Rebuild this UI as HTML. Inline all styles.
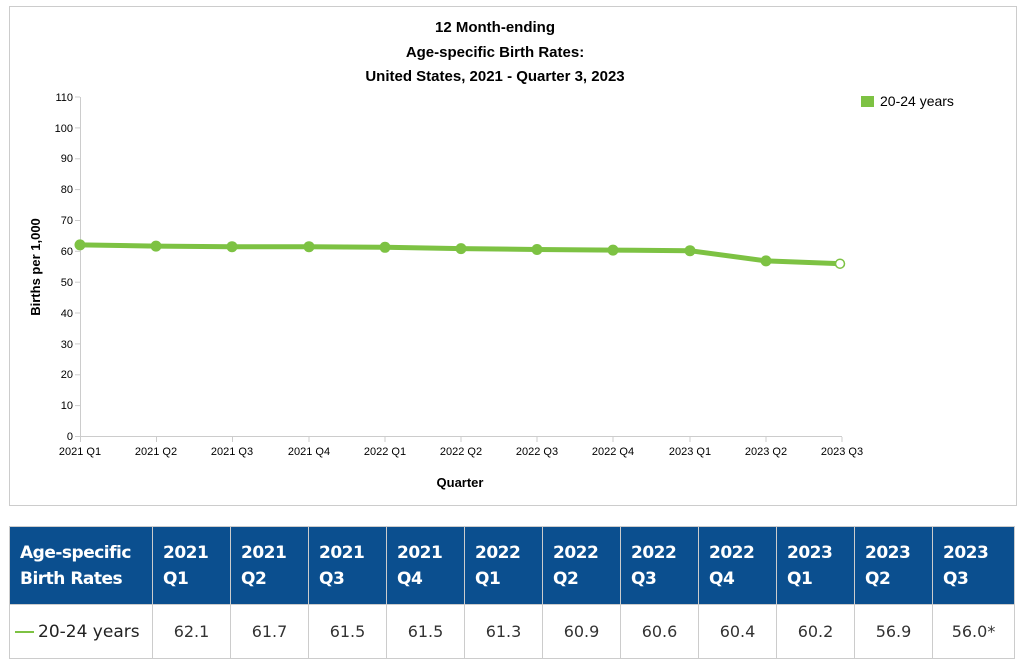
<!DOCTYPE html>
<html><head><meta charset="utf-8"><style>
body{margin:0;background:#fff;width:1026px;height:670px;overflow:hidden;font-family:"Liberation Sans",sans-serif}
.box{position:absolute;left:9px;top:6px;width:1006px;height:498px;border:1px solid #ccc}
table{position:absolute;left:9px;top:526px;border-collapse:collapse;font-family:"DejaVu Sans","Liberation Sans",sans-serif}
th{background:#0b4f8f;color:#fff;font-size:17px;text-align:left;font-weight:bold;padding:0 10px;height:77px;border:1px solid #ccc;line-height:26px;letter-spacing:-0.5px}
td{border:1px solid #ccc;height:53px;font-size:16px;text-align:center;color:#333;padding:0}
</style></head><body>
<div class="box"></div>
<svg width="1026" height="510" style="position:absolute;left:0;top:0" font-family="Liberation Sans, sans-serif">
<g font-size="15" font-weight="bold" text-anchor="middle" fill="#000">
<text x="495" y="32">12 Month-ending</text>
<text x="495" y="57">Age-specific Birth Rates:</text>
<text x="495" y="81">United States, 2021 - Quarter 3, 2023</text>
</g>
<line x1="80.5" y1="97" x2="80.5" y2="437" stroke="#ccc"/>
<line x1="80" y1="436.5" x2="842" y2="436.5" stroke="#ccc"/>
<g font-size="11" text-anchor="end" fill="#000">
<text x="73" y="440">0</text><text x="73" y="409">10</text><text x="73" y="378">20</text><text x="73" y="348">30</text><text x="73" y="317">40</text><text x="73" y="286">50</text><text x="73" y="255">60</text><text x="73" y="224">70</text><text x="73" y="193">80</text><text x="73" y="162">90</text><text x="73" y="132">100</text><text x="73" y="101">110</text>
</g>
<g stroke="#ccc">
<line x1="75" y1="436.5" x2="80" y2="436.5"/><line x1="75" y1="405.6" x2="80" y2="405.6"/><line x1="75" y1="374.8" x2="80" y2="374.8"/><line x1="75" y1="343.9" x2="80" y2="343.9"/><line x1="75" y1="313" x2="80" y2="313"/><line x1="75" y1="282.2" x2="80" y2="282.2"/><line x1="75" y1="251.3" x2="80" y2="251.3"/><line x1="75" y1="220.5" x2="80" y2="220.5"/><line x1="75" y1="189.6" x2="80" y2="189.6"/><line x1="75" y1="158.8" x2="80" y2="158.8"/><line x1="75" y1="127.9" x2="80" y2="127.9"/><line x1="75" y1="97" x2="80" y2="97"/>
</g>
<g stroke="#ccc">
<line x1="80.5" y1="437" x2="80.5" y2="442"/><line x1="156.5" y1="437" x2="156.5" y2="442"/><line x1="232.5" y1="437" x2="232.5" y2="442"/><line x1="309" y1="437" x2="309" y2="442"/><line x1="385" y1="437" x2="385" y2="442"/><line x1="461" y1="437" x2="461" y2="442"/><line x1="537" y1="437" x2="537" y2="442"/><line x1="613" y1="437" x2="613" y2="442"/><line x1="690" y1="437" x2="690" y2="442"/><line x1="766" y1="437" x2="766" y2="442"/><line x1="842" y1="437" x2="842" y2="442"/>
</g>
<g font-size="11" text-anchor="middle" fill="#000">
<text x="80" y="455">2021 Q1</text><text x="156" y="455">2021 Q2</text><text x="232" y="455">2021 Q3</text><text x="309" y="455">2021 Q4</text><text x="385" y="455">2022 Q1</text><text x="461" y="455">2022 Q2</text><text x="537" y="455">2022 Q3</text><text x="613" y="455">2022 Q4</text><text x="690" y="455">2023 Q1</text><text x="766" y="455">2023 Q2</text><text x="842" y="455">2023 Q3</text>
</g>
<text x="460" y="487" font-size="13" font-weight="bold" text-anchor="middle">Quarter</text>
<text transform="translate(40,267) rotate(-90)" font-size="13" font-weight="bold" text-anchor="middle">Births per 1,000</text>
<polyline fill="none" stroke="#7dc243" stroke-width="5" stroke-linejoin="round" points="80,244.9 156,246.1 232,246.7 309,246.7 385,247.3 461,248.6 537,249.5 613,250.1 690,250.7 766,260.9 842,263.7"/>
<g fill="#7dc243">
<circle cx="80" cy="244.9" r="5.5"/><circle cx="156" cy="246.1" r="5.5"/><circle cx="232" cy="246.7" r="5.5"/><circle cx="309" cy="246.7" r="5.5"/><circle cx="385" cy="247.3" r="5.5"/><circle cx="461" cy="248.6" r="5.5"/><circle cx="537" cy="249.5" r="5.5"/><circle cx="613" cy="250.1" r="5.5"/><circle cx="690" cy="250.7" r="5.5"/><circle cx="766" cy="260.9" r="5.5"/>
</g>
<circle cx="840" cy="263.7" r="4.5" fill="#fff" stroke="#7dc243" stroke-width="1.5"/>
<rect x="861" y="96" width="13" height="11" fill="#7dc243"/>
<text x="880" y="106" font-size="14">20-24 years</text>
</svg>
<table>
<tr><th style="width:122px">Age-specific<br>Birth Rates</th>
<th style="width:57px">2021<br>Q1</th><th style="width:57px">2021<br>Q2</th><th style="width:57px">2021<br>Q3</th><th style="width:57px">2021<br>Q4</th><th style="width:57px">2022<br>Q1</th><th style="width:57px">2022<br>Q2</th><th style="width:57px">2022<br>Q3</th><th style="width:57px">2022<br>Q4</th><th style="width:57px">2023<br>Q1</th><th style="width:57px">2023<br>Q2</th><th style="width:61px">2023<br>Q3</th></tr>
<tr><td style="text-align:left;padding-left:5px;font-size:17px;color:#222"><span style="display:inline-block;width:19px;height:2px;background:#7dc243;vertical-align:middle;margin-right:4px"></span>20-24 years</td>
<td>62.1</td><td>61.7</td><td>61.5</td><td>61.5</td><td>61.3</td><td>60.9</td><td>60.6</td><td>60.4</td><td>60.2</td><td>56.9</td><td>56.0*</td></tr>
</table>
</body></html>
